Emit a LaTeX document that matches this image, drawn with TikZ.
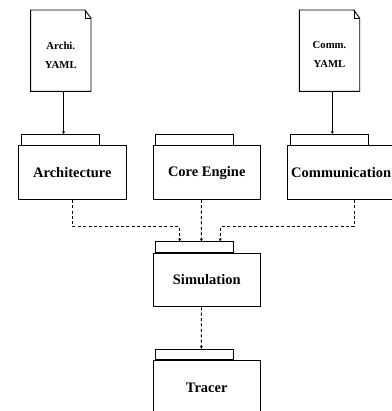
\documentclass[tikz,border=0pt]{standalone}
\usepackage{fontspec}
\setmainfont{Liberation Serif}
\usepackage{tikz}
\usetikzlibrary{calc,arrows.meta}

\begin{document}
\begin{tikzpicture}[line width=0.9pt,x=1pt,y=1pt]
    % `module' is used for the boxes, `tabtop' for the strip on top of each box.
    % `docfile' is used for the yaml files, `doctext' for the words on them.
    \tikzstyle{module} = [draw,minimum width=107.5pt,minimum height=53.5pt,inner sep=0pt,font=\fontsize{14.5}{16}\selectfont\bfseries]
    \tikzstyle{tabtop} = [draw,anchor=south west,minimum width=78pt,minimum height=10.5pt,inner sep=0pt]
    \tikzstyle{docfile} = [minimum width=59.5pt,minimum height=80.5pt,inner sep=0pt]
    \tikzstyle{doctext} = [align=center,inner sep=0pt,font=\fontsize{10.7}{19}\selectfont\bfseries]
    \tikzstyle{dep} = [dash pattern=on 3pt off 2.4pt,-{Stealth[length=3pt,width=3pt]}]
    \tikzstyle{feed} = [-{Stealth[length=3pt,width=3pt]}]
    \useasboundingbox (0,0) rectangle (391,-411);
    %
    \matrix[anchor=north west,inner sep=0pt,row sep=53pt, column sep=26pt] (blocks) at (17.7,-145) {
      \node[module] (architecture) {Architecture}; &
      \node[module] (core) {Core Engine}; &
      \node[module] (communication) {Communication}; \\
      &
      \node[module] (simulation) {Simulation}; &
      \\
      &
      \node[module] (tracer) {Tracer}; &
      \\
  };
    % Tabs on the boxes.
    \foreach \name in {architecture,core,communication,simulation,tracer}
        \node[tabtop] (\name tab) at ([xshift=2.7pt]\name.north west) {};
    % Yaml files.
    \node[docfile] (archiyaml) at (60.8,-50.75) {};
    \node[docfile] (commyaml) at (329.5,-50.75) {};
    \node[doctext] (architext) at ([yshift=-4.5pt]archiyaml.center) {Archi.\\YAML};
    \node[doctext] (commtext) at ([yshift=-4pt]commyaml.center) {Comm.\\YAML};
    \foreach \name in {archiyaml,commyaml} {
        \draw (\name.south west) -- (\name.north west) -- ($(\name.north east)+(-6,0)$)
            -- ($(\name.north east)+(0,-8)$) -- (\name.south east) -- cycle;
        \draw[thin] ($(\name.north east)+(-6,0)$) |- ($(\name.north east)+(0,-8)$);
    }
    % Draw lines.
    \draw[feed] ([xshift=2.7pt]archiyaml.south) -- ([xshift=2.7pt]archiyaml.south |- architecturetab.north);
    \draw[feed] ([xshift=2.8pt]commyaml.south) -- ([xshift=2.8pt]commyaml.south |- communicationtab.north);
    \draw[dep] (architecture.south) -- ++(0,-27) -| ([xshift=-15pt]simulationtab.north);
    \draw[dep] ([xshift=-5.3pt]core.south) -- ([xshift=6.7pt]simulationtab.north);
    \draw[dep] ([xshift=13.3pt]communication.south) -- ++(0,-27) -| ([xshift=25.5pt]simulationtab.north);
    \draw[dep] ([xshift=-5.3pt]simulation.south) -- ([xshift=6.7pt]tracertab.north);
\end{tikzpicture}
\end{document}
